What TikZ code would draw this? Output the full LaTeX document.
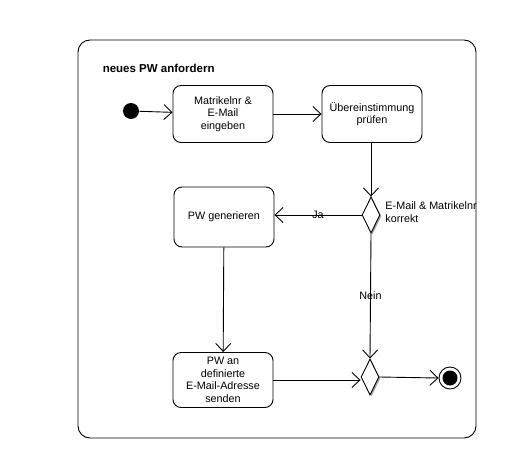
\documentclass[tikz,border=0pt]{standalone}
\usepackage{fontspec}
\setmainfont{Liberation Sans}
\usepackage{tikz}
\usetikzlibrary{arrows.meta}
\usetikzlibrary{shapes.geometric, shadows}

\tikzset{
  every picture/.style={line width=0.9pt},
  aktion/.style={draw, rounded corners=8pt, minimum width=100pt, minimum height=57pt,
    align=center, inner sep=1pt, font=\fontsize{10.8}{12.5}\selectfont},
  entscheidung/.style={draw, diamond, fill=white, minimum width=18pt, minimum height=36pt,
    inner sep=0pt, drop shadow={fill=gray!70, opacity=1, shadow xshift=1.5pt, shadow yshift=-1.5pt}},
  fluss/.style={-{Straight Barb[length=8pt, width=15pt]}},
  beschriftung/.style={font=\fontsize{10.8}{12.5}\selectfont, inner sep=0pt}
}

\begin{document}
\begin{tikzpicture}[x=1pt, y=-1pt]
\useasboundingbox (0,0) rectangle (513,450);
%
\draw[rounded corners=12pt] (78,40) rectangle (476,438);
\node[anchor=west, font=\fontsize{11.5}{13}\selectfont\bfseries] (titel) at (99,68) {neues PW anfordern};
%
\node[circle, fill=black, minimum size=16pt, inner sep=0pt] (start) at (131,111) {};
\node[aktion] (eingabe) at (223,114) {Matrikelnr \&\\E-Mail\\eingeben};
\node[aktion] (pruefen) at (372,114) {Übereinstimmung\\prüfen};
\node[entscheidung] (pruefung) at (371,215) {};
\node[beschriftung, anchor=west, align=left] (korrekt) at (385,212) {E-Mail \& Matrikelnr\\korrekt};
\node[aktion, minimum height=60pt] (generieren) at (224,217) {PW generieren};
\node[aktion, minimum height=55pt] (senden) at (223,380) {PW an\\definierte\\E-Mail-Adresse\\senden};
\node[entscheidung] (zusammen) at (370,377) {};
\node[circle, draw, minimum size=22pt, inner sep=0pt,
  path picture={\fill (path picture bounding box.center) circle (7.5pt);}] (ende) at (450,378) {};
%
\draw[fluss] (start) -- (eingabe);
\draw[fluss] (eingabe) -- (pruefen);
\draw[fluss] (pruefen.south -| pruefung.north) -- (pruefung.north);
\draw[fluss] (pruefung.west) -- node[beschriftung, pos=0.5, above=-4pt] (ja) {Ja} (pruefung.west -| generieren.east);
\draw[fluss] (pruefung.south) -- node[beschriftung, pos=0.5] (nein) {Nein} (zusammen.north);
\draw[fluss] (generieren) -- (senden);
\draw[fluss] (senden.east) -- (senden.east -| zusammen.west);
\draw[fluss] (zusammen.east) -- (ende.west);
%
\end{tikzpicture}
\end{document}
